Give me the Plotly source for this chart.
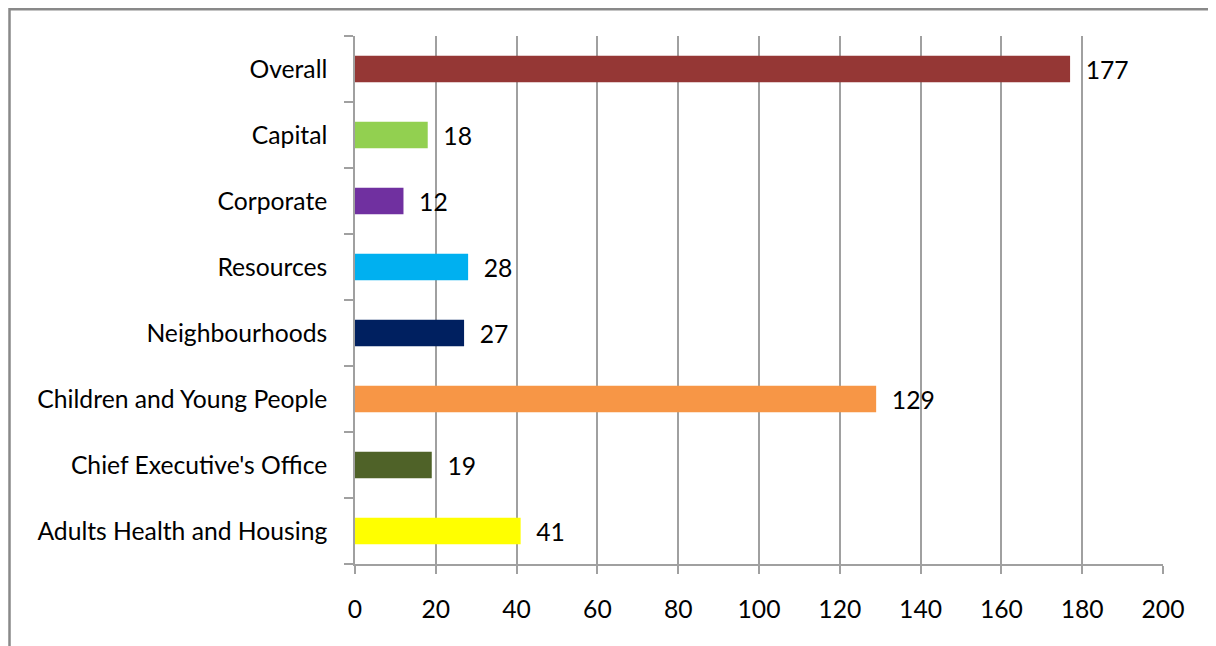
import plotly.graph_objects as go

categories = ["Adults Health and Housing", "Chief Executive's Office", "Children and Young People",
              "Neighbourhoods", "Resources", "Corporate", "Capital", "Overall"]
values = [41, 19, 129, 27, 28, 12, 18, 177]
colors = ["#FFFF00", "#4F6228", "#F79646", "#002060", "#00B0F0", "#7030A0", "#92D050", "#953735"]
x_ticks = [0, 20, 40, 60, 80, 100, 120, 140, 160, 180, 200]

FONT = "Lato"
FS = 24.7
grid = "#A0A0A0"

# page has an 8px body margin; compensate
W, H = 1208, 638
L, T = 347, 28
PW, PH = 808, 528

fig = go.Figure(go.Bar(
    y=categories, x=values, orientation="h",
    marker=dict(color=colors, line=dict(width=0)),
    width=0.4,
    text=["\u00a0\u00a0" + str(v) for v in values],
    textposition="outside",
    constraintext="none",
    textfont=dict(family=FONT, size=FS, color="#000000"),
    cliponaxis=False,
))

fig.update_layout(
    width=W, height=H,
    margin=dict(l=L, r=W - L - PW, t=T, b=H - T - PH),
    paper_bgcolor="white", plot_bgcolor="white",
    showlegend=False,
    font=dict(family=FONT, size=FS, color="#000000"),
    xaxis=dict(range=[0, 200], tickvals=x_ticks, showgrid=True, gridcolor=grid, gridwidth=1.5,
               zeroline=False, showline=True, linecolor=grid, linewidth=1.5,
               ticks="outside", ticklen=8, tickcolor=grid, tickwidth=1.5,
               ticklabelstandoff=15, tickfont=dict(family=FONT, size=FS)),
    yaxis=dict(categoryorder="array", categoryarray=categories, showline=True, linecolor=grid,
               linewidth=1.5, ticks="outside", tickson="boundaries", ticklen=9, tickcolor=grid,
               tickwidth=1.5, showgrid=False, zeroline=False, ticklabelstandoff=21,
               tickfont=dict(family=FONT, size=FS)),
    bargap=0.6,
)

fig.add_shape(type="rect", xref="paper", yref="paper",
              x0=(1.5 - L) / PW, x1=(1205 - L) / PW,
              y0=-0.3, y1=(T + PH - 1.2) / PH,
              line=dict(color="#898989", width=2.5), fillcolor="rgba(0,0,0,0)", layer="below")

fig.write_html("out.html")
